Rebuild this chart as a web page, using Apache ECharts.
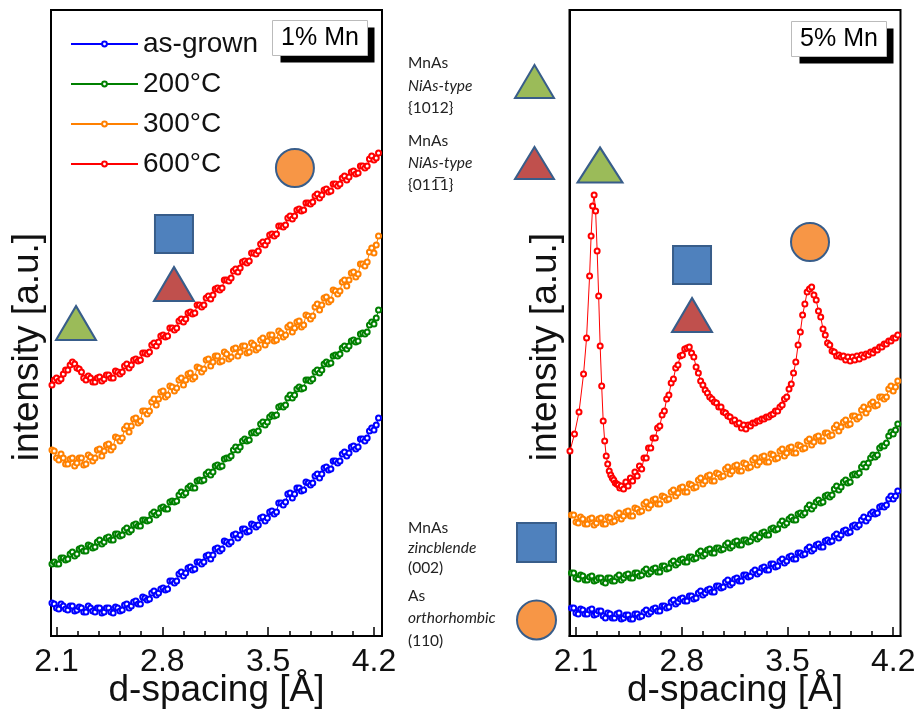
<!DOCTYPE html>
<html><head><meta charset="utf-8">
<script src="https://cdn.jsdelivr.net/npm/echarts@6/dist/echarts.min.js"></script>
<style>html,body{margin:0;padding:0;background:#fff}#c{width:917px;height:710px}</style>
</head><body><div id="c"></div>
<script>
// ---- data (d-spacing in Å, intensity in arbitrary units) ----
const D_GRID = [2.07,2.10,2.13,2.16,2.19,2.22,2.25,2.28,2.31,2.34,2.37,2.40,2.43,2.46,2.49,2.52,2.55,2.58,2.61,2.64,2.67,2.70,2.73,2.76,2.79,2.82,2.85,2.88,2.91,2.94,2.97,3.00,3.03,3.06,3.09,3.12,3.15,3.18,3.21,3.24,3.27,3.30,3.33,3.36,3.39,3.42,3.45,3.48,3.51,3.54,3.57,3.60,3.63,3.66,3.69,3.72,3.75,3.78,3.81,3.84,3.87,3.90,3.93,3.96,3.99,4.02,4.05,4.08,4.11,4.14,4.17,4.20,4.23];
const D_GRID_B = [2.085,2.115,2.145,2.175,2.205,2.235,2.265,2.295,2.325,2.355,2.385,2.415,2.445,2.475,2.505,2.535,2.565,2.595,2.625,2.655,2.685,2.715,2.745,2.775,2.805,2.835,2.865,2.895,2.925,2.955,2.985,3.015,3.045,3.075,3.105,3.135,3.165,3.195,3.225,3.255,3.285,3.315,3.345,3.375,3.405,3.435,3.465,3.495,3.525,3.555,3.585,3.615,3.645,3.675,3.705,3.735,3.765,3.795,3.825,3.855,3.885,3.915,3.945,3.975,4.005,4.035,4.065,4.095,4.125,4.155,4.185,4.215];

// 1% Mn panel
const MN1_ASGROWN = [33,28,32,27,30,25,29,24,30,25,28,23,28,24,29,25,31,28,34,32,39,36,43,41,47,46,55,53,62,60,68,66,74,72,80,77,87,85,95,92,101,98,107,104,112,109,118,115,124,122,133,131,142,138,148,145,154,151,160,158,168,166,175,173,182,180,189,187,197,195,205,206,218];
const MN1_ASGROWN_B = [32,27,30,26,30,26,28,24,28,24,28,24,28,23,28,26,32,30,35,32,38,37,45,43,48,47,55,55,64,63,69,67,74,74,81,81,88,87,94,94,102,101,107,105,111,111,119,118,125,124,133,134,143,142,148,146,153,153,162,162,169,167,175,175,184,183,190,189,197,198,208,211];
const MN1_200C = [72,72,78,76,82,80,87,85,91,88,94,92,98,96,102,100,106,104,111,110,116,115,122,121,128,127,134,134,141,141,148,148,155,155,162,161,170,169,177,178,186,186,195,195,203,203,212,211,219,220,229,229,238,238,247,247,256,255,264,263,272,272,280,280,288,287,295,294,302,302,311,312,326];
const MN1_200C_B = [74,72,78,77,84,82,88,85,90,89,96,94,99,96,102,101,108,106,112,110,116,116,124,123,129,127,135,135,144,143,150,148,156,156,164,164,171,170,178,180,189,189,197,196,204,205,214,214,221,221,230,231,241,241,249,248,256,257,266,266,274,273,281,282,290,290,296,295,303,304,314,318];
const MN1_300C = [186,178,182,172,177,170,178,171,181,175,186,180,191,186,199,195,207,204,217,213,225,222,234,231,244,239,250,245,256,251,262,257,269,264,276,270,280,274,284,277,287,280,290,283,293,286,296,291,301,295,305,299,309,304,314,309,321,317,329,326,338,334,346,342,354,350,363,359,372,370,384,383,400];
const MN1_300C_B = [185,176,178,172,178,173,178,172,179,178,187,185,192,189,198,198,210,210,218,215,225,225,237,237,245,241,249,248,258,256,263,259,268,267,277,274,280,275,282,279,288,284,290,284,291,288,298,295,301,296,303,301,311,308,315,311,320,320,332,331,339,336,345,345,356,356,364,362,372,374,388,391];
const MN1_600C = [251,258,257,266,271,272,267,258,260,254,258,255,261,258,265,262,270,268,276,275,283,282,291,290,300,299,308,306,315,314,323,322,331,329,338,337,347,346,356,355,365,364,374,373,383,382,392,391,401,400,410,409,418,417,426,425,433,432,440,438,446,444,452,450,458,456,464,462,470,468,477,476,483];
const MN1_600C_B = [256,255,262,266,274,268,264,256,258,254,259,257,261,258,264,264,272,271,277,276,283,284,293,294,301,300,308,308,317,317,324,323,331,331,340,341,348,348,356,358,367,368,375,375,383,385,394,395,402,402,410,411,420,420,427,426,433,434,442,441,447,445,452,452,460,459,465,463,470,470,480,478];

// 5% Mn panel
const MN5_ASGROWN = [28,23,27,22,26,21,25,20,23,18,22,17,21,17,22,19,24,22,27,25,30,28,34,32,37,35,40,37,43,41,46,44,50,48,54,51,57,55,61,59,64,62,68,66,72,69,75,73,79,77,83,81,87,85,91,89,95,94,100,98,105,103,110,109,116,115,122,122,129,129,137,137,145];
const MN5_ASGROWN_B = [28,22,26,22,27,22,25,18,22,18,23,18,21,17,22,20,26,24,28,25,30,29,36,34,38,35,40,38,45,43,47,44,50,49,56,53,58,55,61,60,66,64,69,66,72,70,77,75,80,77,83,82,89,87,92,89,96,95,102,101,106,104,111,111,119,118,124,123,130,131,140,140];
const MN5_200C = [63,58,61,56,59,55,58,54,58,55,59,56,61,58,63,60,65,62,67,64,70,67,73,71,76,74,79,77,83,80,86,83,88,86,91,88,94,91,96,94,99,97,103,101,107,106,112,111,117,116,122,121,128,127,134,133,140,139,147,146,154,153,161,161,169,169,178,179,188,190,200,202,212];
const MN5_200C_B = [63,57,60,56,60,56,58,53,58,55,61,58,62,58,63,61,67,64,68,64,70,68,75,73,77,74,79,78,85,82,87,83,88,87,93,90,95,91,96,95,101,99,104,101,108,107,115,113,119,116,123,123,131,130,136,134,141,141,150,149,156,154,162,163,172,173,181,181,190,193,204,206];
const MN5_300C = [121,114,119,112,117,111,117,112,119,114,121,117,124,120,128,124,132,128,136,132,140,136,144,140,148,144,152,148,156,152,160,155,163,159,167,162,170,165,173,168,176,171,179,174,182,177,185,180,188,183,191,187,195,191,199,195,203,200,208,205,214,211,220,217,226,223,232,230,239,237,247,245,255];
const MN5_300C_B = [121,113,117,112,118,113,118,112,118,115,123,120,125,120,127,125,134,131,137,132,139,137,146,143,149,144,151,149,158,155,161,155,162,160,169,165,171,165,172,169,178,174,180,174,181,178,187,183,189,183,190,188,197,194,200,195,203,201,211,209,216,212,220,219,229,227,234,231,239,239,250,249];
const D_MN5_600C = [2.06,2.09,2.12,2.15,2.17,2.19,2.20,2.21,2.22,2.23,2.24,2.25,2.26,2.27,2.28,2.29,2.30,2.31,2.32,2.33,2.34,2.35,2.36,2.37,2.38,2.39,2.40,2.415,2.43,2.445,2.46,2.475,2.49,2.505,2.52,2.535,2.55,2.565,2.58,2.595,2.61,2.625,2.64,2.655,2.67,2.685,2.70,2.715,2.73,2.745,2.76,2.775,2.79,2.805,2.82,2.835,2.85,2.865,2.88,2.895,2.91,2.925,2.94,2.955,2.97,2.985,3.00,3.015,3.03,3.045,3.06,3.075,3.09,3.105,3.12,3.135,3.15,3.165,3.18,3.195,3.21,3.225,3.24,3.255,3.27,3.285,3.30,3.315,3.33,3.345,3.36,3.375,3.39,3.405,3.42,3.435,3.45,3.465,3.48,3.495,3.51,3.525,3.54,3.555,3.57,3.585,3.60,3.615,3.63,3.645,3.66,3.675,3.69,3.705,3.72,3.735,3.75,3.765,3.78,3.795,3.81,3.825,3.84,3.855,3.87,3.885,3.90,3.915,3.93,3.945,3.96,3.975,3.99,4.005,4.02,4.035,4.05,4.065,4.08,4.095,4.11,4.125,4.14,4.155,4.17,4.185,4.20,4.215,4.23];
const MN5_600C = [185,202,224,262,298,360,400,430,441,425,385,340,290,250,215,195,180,172,165,161,158,156,153,152,151,148,150,147,154,150,158,155,164,160,170,167,178,178,188,188,198,198,208,210,221,225,237,241,253,257,268,271,280,281,287,288,289,283,279,269,263,255,251,246,243,239,237,234,233,229,229,224,223,220,219,215,216,212,213,208,211,207,211,210,213,213,215,215,217,217,219,219,221,222,225,225,229,231,237,239,247,252,263,274,291,304,321,332,344,347,349,341,336,325,319,307,301,293,291,285,284,280,281,279,280,276,279,275,279,276,280,277,281,279,282,281,284,283,286,286,289,289,292,292,295,295,298,298,301];

const SERIES_NAMES = ['as-grown','200°C','300°C','600°C'];
const SERIES_COLORS = ['#0000ff','#008000','#ff8000','#ff0000'];
const X_TICKS = [2.1, 2.8, 3.5, 4.2];
const X_MINOR_TICKS = [2.24,2.38,2.52,2.66,2.94,3.08,3.22,3.36,3.64,3.78,3.92,4.06];

// reflection markers: [d, intensity]
const MARK_1_GREEN_TRI = [2.229, 313];
const MARK_1_RED_TRI = [2.877, 352];
const MARK_1_BLUE_SQ = [2.877, 402];
const MARK_1_ORANGE_CIRC = [3.677, 468];
const MARK_5_GREEN_TRI = [2.259, 471];
const MARK_5_RED_TRI = [2.868, 321];
const MARK_5_BLUE_SQ = [2.868, 371];
const MARK_5_ORANGE_CIRC = [3.649, 394];

// ---- chart ----
const pairs = (xs, ys) => ys.map((y, i) => [xs[i], y]);
const merged = (a, b) => pairs(D_GRID, a).concat(pairs(D_GRID_B, b)).sort((p, q) => p[0] - q[0]);
const FONT = 'Liberation Sans, Arial, sans-serif';
const NARROW = 'Liberation Sans Narrow, Arial Narrow, Liberation Sans, Arial, sans-serif';
const OUTLINE = '#385d8a';

function mainX(grid, min, max) {
  return {
    gridIndex: grid, type: 'value', min: min, max: max,
    axisLine: {show: true, lineStyle: {color: '#000', width: 2}},
    axisTick: {show: true, inside: true, length: 9, customValues: X_TICKS, lineStyle: {color: '#000', width: 1.5}},
    axisLabel: {customValues: X_TICKS, formatter: v => v.toFixed(1), fontSize: 32, fontFamily: NARROW, color: '#111', margin: 10},
    splitLine: {show: false},
    name: 'd-spacing [Å]', nameLocation: 'middle', nameGap: 36, nameMoveOverlap: false,
    nameTextStyle: {fontSize: 37, fontFamily: FONT, color: '#111'}
  };
}
function minorX(grid, min, max) {
  return {
    gridIndex: grid, type: 'value', min: min, max: max, position: 'bottom', offset: 0,
    axisLine: {show: false},
    axisTick: {show: true, inside: true, length: 5, customValues: X_MINOR_TICKS, lineStyle: {color: '#000', width: 1.5}},
    axisLabel: {show: false}, splitLine: {show: false}
  };
}
function yAx(grid) {
  return {
    gridIndex: grid, type: 'value', min: 0, max: 626,
    axisLine: {show: true, lineStyle: {color: '#000', width: 2}},
    axisTick: {show: false}, axisLabel: {show: false}, splitLine: {show: false},
    name: 'intensity [a.u.]', nameLocation: 'middle', nameGap: 5,
    nameTextStyle: {fontSize: 37, fontFamily: FONT, color: '#111', padding: [0, 48, 0, 0]}
  };
}
function lineSeries(name, color, xi, yi, data) {
  return {
    name: name, type: 'line', xAxisIndex: xi, yAxisIndex: yi, data: data,
    symbol: 'emptyCircle', symbolSize: 5, showSymbol: true, showAllSymbol: true,
    lineStyle: {color: color, width: 1}, itemStyle: {color: color, borderColor: color, borderWidth: 1.2},
    animation: false, z: 3
  };
}
function marker(xi, yi, pt, symbol, size, color) {
  return {
    type: 'scatter', xAxisIndex: xi, yAxisIndex: yi, data: [pt], symbol: symbol, symbolSize: size,
    itemStyle: {color: color, borderColor: OUTLINE, borderWidth: 2, opacity: 1}, z: 5, animation: false, silent: true
  };
}

const series = [
  lineSeries(SERIES_NAMES[0], SERIES_COLORS[0], 0, 0, merged(MN1_ASGROWN, MN1_ASGROWN_B)),
  lineSeries(SERIES_NAMES[1], SERIES_COLORS[1], 0, 0, merged(MN1_200C, MN1_200C_B)),
  lineSeries(SERIES_NAMES[2], SERIES_COLORS[2], 0, 0, merged(MN1_300C, MN1_300C_B)),
  lineSeries(SERIES_NAMES[3], SERIES_COLORS[3], 0, 0, merged(MN1_600C, MN1_600C_B)),
  lineSeries(SERIES_NAMES[0], SERIES_COLORS[0], 2, 1, merged(MN5_ASGROWN, MN5_ASGROWN_B)),
  lineSeries(SERIES_NAMES[1], SERIES_COLORS[1], 2, 1, merged(MN5_200C, MN5_200C_B)),
  lineSeries(SERIES_NAMES[2], SERIES_COLORS[2], 2, 1, merged(MN5_300C, MN5_300C_B)),
  lineSeries(SERIES_NAMES[3], SERIES_COLORS[3], 2, 1, pairs(D_MN5_600C, MN5_600C)),
  marker(0, 0, MARK_1_GREEN_TRI, 'triangle', [40, 34], '#9bbb59'),
  marker(0, 0, MARK_1_RED_TRI, 'triangle', [40, 34], '#c0504d'),
  marker(0, 0, MARK_1_BLUE_SQ, 'rect', [38, 38], '#4f81bd'),
  marker(0, 0, MARK_1_ORANGE_CIRC, 'circle', 38, '#f79646'),
  marker(2, 1, MARK_5_GREEN_TRI, 'triangle', [45, 35], '#9bbb59'),
  marker(2, 1, MARK_5_RED_TRI, 'triangle', [40, 34], '#c0504d'),
  marker(2, 1, MARK_5_BLUE_SQ, 'rect', [38, 38], '#4f81bd'),
  marker(2, 1, MARK_5_ORANGE_CIRC, 'circle', 38, '#f79646')
];

function labelBox(x, y, text) {
  return {
    type: 'group', left: x, top: y, children: [
      {type: 'rect', shape: {x: 8, y: 7, width: 94, height: 35}, style: {fill: '#000'}},
      {type: 'rect', shape: {x: 0, y: 0, width: 95, height: 35}, style: {fill: '#fff', stroke: '#bbb', lineWidth: 1}},
      {type: 'text', style: {text: text, x: 47.5, y: 18, align: 'center', verticalAlign: 'middle', font: '25px ' + FONT, fill: '#000'}}
    ]
  };
}
function keyText(y, text, italic) {
  return {type: 'text', left: 408, top: y - 10, style: {text: text, font: (italic ? 'italic ' : '') + '15.5px Lato, "Open Sans", sans-serif', fill: '#222'}};
}
const graphic = [
  labelBox(272, 20, '1% Mn'),
  labelBox(791, 21, '5% Mn'),
  keyText(65, 'MnAs'), keyText(88, 'NiAs-type', true), keyText(110, '{1012}'),
  keyText(143, 'MnAs'), keyText(165, 'NiAs-type', true), keyText(187, '{01\u0031\u03051}'),
  keyText(530, 'MnAs'), keyText(550, 'zincblende', true), keyText(570, '(002)'),
  keyText(598, 'As'), keyText(620, 'orthorhombic', true), keyText(643, '(110)'),
  {type: 'polygon', shape: {points: [[515, 98], [554, 98], [534.5, 65]]}, style: {fill: '#9bbb59', stroke: OUTLINE, lineWidth: 2}},
  {type: 'polygon', shape: {points: [[515, 179], [554, 179], [534.5, 147]]}, style: {fill: '#c0504d', stroke: OUTLINE, lineWidth: 2}},
  {type: 'rect', shape: {x: 517, y: 523, width: 39, height: 39}, style: {fill: '#4f81bd', stroke: OUTLINE, lineWidth: 2}},
  {type: 'circle', shape: {cx: 536.5, cy: 620, r: 19.5}, style: {fill: '#f79646', stroke: OUTLINE, lineWidth: 2}}
];

const chart = echarts.init(document.getElementById('c'));
chart.setOption({
  animation: false,
  backgroundColor: '#fff',
  grid: [
    {left: 51, top: 10, width: 331, height: 626, show: true, borderColor: '#000', borderWidth: 2, backgroundColor: 'transparent', outerBoundsMode: 'none', containLabel: false},
    {left: 569.5, top: 10, width: 331, height: 626, show: true, borderColor: '#000', borderWidth: 2, backgroundColor: 'transparent', outerBoundsMode: 'none', containLabel: false}
  ],
  xAxis: [mainX(0, 2.0636, 4.253), minorX(0, 2.0636, 4.253), mainX(1, 2.057, 4.248), minorX(1, 2.057, 4.248)],
  yAxis: [yAx(0), yAx(1)],
  legend: {
    left: 65, top: 25, orient: 'vertical', itemWidth: 67, itemHeight: 6, itemGap: 12,
    data: SERIES_NAMES, textStyle: {fontSize: 28, fontFamily: FONT, color: '#111'}, selectedMode: false
  },
  series: series,
  graphic: graphic
});
</script></body></html>
